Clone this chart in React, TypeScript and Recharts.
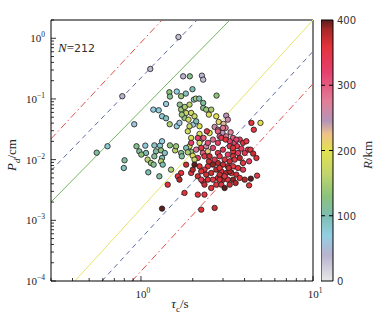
import React from "react";
import {
  ScatterChart,
  Scatter,
  XAxis,
  YAxis,
  ReferenceLine,
  BarChart,
  Bar,
} from "recharts";

// tau_c (s), P_d (cm) and epicentral distance R (km) of the 212 records
const tau = [
  1.652, 1.133, 0.779, 0.914, 0.639, 0.553, 0.803, 0.795, 1.759, 1.923,
  2.26, 2.3, 2.75, 1.993, 1.615, 1.463, 1.474, 1.823, 1.712, 2.03,
  2.085, 2.18, 2.3, 1.18, 1.268, 1.399, 1.326, 1.399, 1.469, 1.615,
  1.674, 1.791, 1.681, 1.712, 1.799, 1.915, 1.831, 1.958, 2.048, 1.727,
  1.889, 2.012, 2.094, 1.915, 1.872, 2.19, 2.395, 2.561, 2.3, 2.482,
  2.74, 2.83, 2.68, 2.8, 3.02, 3.13, 3.2, 3.105, 2.98, 3.13,
  3.32, 3.428, 3.506, 3.28, 2.866, 2.505, 2.19, 2.24, 2.395, 1.958,
  1.915, 1.958, 2.094, 2.29, 2.449, 2.62, 2.8, 2.14, 2.34, 0.942,
  0.978, 1.06, 1.07, 1.005, 1.197, 1.291, 1.326, 1.223, 1.308, 1.376,
  1.196, 1.093, 1.143, 1.185, 1.326, 1.308, 1.338, 1.474, 1.579, 1.6,
  1.712, 1.831, 1.872, 1.727, 2.0, 1.103, 1.279, 1.496, 2.048, 2.19,
  2.416, 2.8, 2.93, 3.105, 3.28, 3.428, 3.62, 3.75, 3.585, 3.92,
  4.19, 4.01, 3.667, 3.428, 3.2, 2.996, 2.866, 3.064, 3.28, 3.506,
  3.75, 3.92, 3.667, 3.428, 3.2, 2.996, 2.8, 2.62, 2.449, 2.34,
  2.24, 2.395, 2.561, 2.74, 2.93, 3.13, 3.35, 3.585, 2.449, 2.62,
  2.8, 2.996, 3.2, 3.428, 3.55, 2.29, 2.14, 1.958, 2.0, 1.831,
  1.712, 1.637, 1.674, 2.24, 2.74, 2.93, 3.064, 3.28, 2.561, 2.34,
  1.431, 1.791, 2.14, 2.34, 2.24, 2.68, 1.326, 4.33, 4.486, 4.69,
  4.25, 4.386, 4.53, 4.95, 4.01, 4.35, 4.73, 4.25, 3.28, 2.866,
  3.75, 3.92, 2.19, 2.482, 2.68, 2.866, 3.064, 3.24, 2.866, 3.428,
  4.1, 3.834, 2.31, 2.449, 2.62, 2.8, 2.996, 2.14, 1.958, 2.24,
  2.505, 2.048,
];

const pd = [
  1.05, 0.312, 0.1109, 0.0383, 0.01662, 0.01302, 0.00975, 0.00728, 0.236, 0.236,
  0.242, 0.208, 0.1136, 0.1447, 0.1323, 0.129, 0.1095, 0.1226, 0.111, 0.0975,
  0.1012, 0.1012, 0.0711, 0.0667, 0.0651, 0.0827, 0.0518, 0.048, 0.0383, 0.0355,
  0.0403, 0.0486, 0.0806, 0.0667, 0.0738, 0.0806, 0.0588, 0.0588, 0.0518, 0.0552,
  0.0456, 0.0378, 0.0428, 0.0355, 0.0293, 0.0355, 0.0667, 0.0667, 0.0859, 0.0552,
  0.0518, 0.0418, 0.0346, 0.0311, 0.0388, 0.0531, 0.0456, 0.0333, 0.0275, 0.0242,
  0.0282, 0.0228, 0.0189, 0.0201, 0.0242, 0.0275, 0.0265, 0.0214, 0.0166, 0.0228,
  0.0166, 0.0134, 0.0146, 0.01287, 0.0137, 0.0156, 0.01287, 0.01065, 0.01135, 0.0166,
  0.0137, 0.017, 0.01287, 0.0121, 0.0172, 0.017, 0.0201, 0.0137, 0.0142, 0.01287,
  0.01135, 0.01, 0.00881, 0.00827, 0.01065, 0.00938, 0.00827, 0.0172, 0.0142, 0.0166,
  0.01287, 0.0156, 0.0132, 0.01135, 0.01162, 0.00618, 0.00531, 0.00684, 0.01, 0.0189,
  0.0293, 0.0189, 0.0228, 0.0214, 0.0166, 0.0137, 0.0166, 0.0214, 0.0214, 0.0189,
  0.0146, 0.01287, 0.01287, 0.01135, 0.0121, 0.0146, 0.01135, 0.01, 0.00938, 0.01,
  0.01065, 0.00881, 0.00728, 0.00776, 0.00776, 0.00827, 0.00881, 0.00827, 0.00776, 0.00684,
  0.00642, 0.00566, 0.00603, 0.00684, 0.00642, 0.00603, 0.00603, 0.00566, 0.00468, 0.00468,
  0.00499, 0.00468, 0.00468, 0.00468, 0.00412, 0.00439, 0.00531, 0.00603, 0.00684, 0.00827,
  0.00603, 0.00531, 0.00468, 0.00468, 0.00387, 0.00387, 0.00341, 0.00387, 0.00341, 0.00387,
  0.00387, 0.00283, 0.00265, 0.00265, 0.0015, 0.0016, 0.00156, 0.0146, 0.0126, 0.01065,
  0.00938, 0.0403, 0.0311, 0.0403, 0.00468, 0.00486, 0.00545, 0.00377, 0.00642, 0.00566,
  0.00499, 0.00684, 0.00776, 0.00938, 0.01, 0.00728, 0.00531, 0.00728, 0.00468, 0.0156,
  0.0201, 0.0152, 0.0228, 0.0189, 0.0214, 0.0293, 0.0333, 0.0228, 0.0189, 0.0156,
  0.01135, 0.00827,
];

const distance = [
  30, 35, 40, 60, 80, 110, 110, 90, 40, 120,
  40, 35, 130, 100, 70, 130, 120, 90, 140, 80,
  150, 100, 120, 70, 75, 65, 80, 90, 150, 70,
  60, 130, 120, 140, 150, 160, 170, 180, 170, 140,
  185, 60, 100, 170, 180, 190, 140, 150, 110, 190,
  200, 210, 260, 270, 230, 250, 260, 270, 250, 280,
  270, 300, 310, 320, 300, 200, 195, 250, 260, 190,
  190, 140, 280, 300, 220, 320, 340, 330, 350, 120,
  110, 80, 100, 130, 85, 80, 70, 110, 130, 90,
  115, 160, 140, 115, 100, 160, 100, 130, 160, 140,
  120, 100, 150, 110, 190, 100, 110, 150, 170, 180,
  350, 330, 340, 360, 350, 360, 340, 330, 320, 360,
  350, 340, 330, 360, 330, 340, 350, 350, 370, 350,
  380, 350, 360, 350, 360, 370, 380, 390, 360, 350,
  360, 370, 370, 380, 350, 380, 360, 370, 360, 350,
  360, 380, 360, 390, 380, 350, 370, 350, 380, 370,
  360, 350, 380, 340, 360, 350, 400, 370, 360, 370,
  360, 360, 360, 350, 360, 370, 400, 350, 370, 360,
  330, 360, 350, 200, 380, 400, 350, 360, 380, 370,
  360, 340, 360, 370, 340, 360, 350, 370, 365, 360,
  350, 330, 300, 310, 290, 300, 280, 320, 320, 350,
  370, 400,
];

// end points of the six guide lines, upper-left ones first
const guideTau = [
  [0.3, 1.325],
  [0.3, 2.12],
  [0.3, 3.29],
  [0.413, 10],
  [0.593, 10],
  [0.887, 10],
];
const guidePd = [
  [0.022, 2],
  [0.0066, 2],
  [0.002, 2],
  [0.0001, 2],
  [0.0001, 0.607],
  [0.0001, 0.178],
];

const xTicks = [0.3, 0.4, 0.5, 0.6, 0.7, 0.8, 0.9, 1, 2, 3, 4, 5, 6, 7, 8, 9, 10];
const yTicks = [
  0.0001, 0.0002, 0.0003, 0.0004, 0.0005, 0.0006, 0.0007, 0.0008, 0.0009,
  0.001, 0.002, 0.003, 0.004, 0.005, 0.006, 0.007, 0.008, 0.009,
  0.01, 0.02, 0.03, 0.04, 0.05, 0.06, 0.07, 0.08, 0.09,
  0.1, 0.2, 0.3, 0.4, 0.5, 0.6, 0.7, 0.8, 0.9,
  1, 2,
];
const colorTicks = [0, 100, 200, 300, 400];

// colour map for R
const colorStopR = [0, 40, 70, 100, 130, 165, 200, 225, 245, 275, 320, 360, 385, 400];
const colorStopHex = [
  "#e8e8e8", "#b8b3d0", "#93cfe2", "#7dbdb2", "#8cc27c", "#c2d66c", "#e2e150",
  "#eec28a", "#b495b8", "#e27e98", "#e4406e", "#e2323a", "#a82828", "#5a1e1e",
];

const guideStyle = [
  { stroke: "#e0504a", dash: "7 3 1.5 3" },
  { stroke: "#5a6aa8", dash: "5 4" },
  { stroke: "#72b662", dash: undefined },
  { stroke: "#e6e46a", dash: undefined },
  { stroke: "#5a6aa8", dash: "5 4" },
  { stroke: "#e0504a", dash: "7 3 1.5 3" },
];

const SERIF = '"Liberation Serif", "DejaVu Serif", serif';
const SANS = '"DejaVu Sans", sans-serif';

function hexToRgb(hex: string) {
  return [1, 3, 5].map((i) => parseInt(hex.slice(i, i + 2), 16));
}

function colorFor(r: number) {
  let i = 0;
  while (i < colorStopR.length - 2 && r > colorStopR[i + 1]) i++;
  const t = Math.min(1, Math.max(0, (r - colorStopR[i]) / (colorStopR[i + 1] - colorStopR[i])));
  const a = hexToRgb(colorStopHex[i]);
  const b = hexToRgb(colorStopHex[i + 1]);
  const c = a.map((v, k) => Math.round(v + (b[k] - v) * t));
  return `rgb(${c[0]},${c[1]},${c[2]})`;
}

const points = tau.map((t, i) => ({ tau: t, pd: pd[i], r: distance[i] }));

const TICK_MARGIN = 4;

function isDecade(v: number) {
  const lg = Math.log10(v);
  return Math.abs(lg - Math.round(lg)) < 1e-9;
}

function power(v: number) {
  const e = Math.round(Math.log10(v));
  return e < 0 ? `\u2212${-e}` : `${e}`;
}

function XTick(props: any) {
  const { x, y, payload } = props;
  const major = isDecade(payload.value);
  const axisY = y - TICK_MARGIN;
  return (
    <g>
      <line x1={x} x2={x} y1={axisY} y2={axisY - (major ? 5 : 3)} stroke="#000" strokeWidth={0.8} />
      {major && (
        <text x={x + 2} y={axisY + 17} textAnchor="middle" fontSize={11} fontFamily={SERIF} fill="#222">
          10
          <tspan dy={-5} fontSize={7.5}>{power(payload.value)}</tspan>
        </text>
      )}
    </g>
  );
}

function YTick(props: any) {
  const { x, y, payload } = props;
  const major = isDecade(payload.value);
  const axisX = x + TICK_MARGIN;
  return (
    <g>
      <line x1={axisX} x2={axisX + (major ? 5 : 3)} y1={y} y2={y} stroke="#000" strokeWidth={0.8} />
      {major && (
        <text x={axisX - 6} y={y + 4} textAnchor="end" fontSize={11} fontFamily={SERIF} fill="#222">
          10
          <tspan dy={-5} fontSize={7.5}>{power(payload.value)}</tspan>
        </text>
      )}
    </g>
  );
}

function ColorTick(props: any) {
  const { x, y, payload } = props;
  const axisX = x - TICK_MARGIN;
  const inner = payload.value > 0 && payload.value < 400;
  return (
    <g>
      {inner && (
        <>
          <line x1={axisX - 12} x2={axisX - 8} y1={y} y2={y} stroke="#000" strokeWidth={1} />
          <line x1={axisX - 4} x2={axisX} y1={y} y2={y} stroke="#000" strokeWidth={1} />
        </>
      )}
      <text x={axisX + 4} y={y + 4} fontSize={10} fontFamily={SANS} fill="#333">
        {payload.value}
      </text>
    </g>
  );
}

function Dot(props: any) {
  const { cx, cy } = props;
  const r = props.payload ? props.payload.r : props.r;
  return <circle cx={cx} cy={cy} r={2.7} fill={colorFor(r)} stroke="#1a1a1a" strokeWidth={0.8} />;
}

export default function App() {
  return (
    <div
      style={{
        position: "absolute",
        left: 0,
        top: 0,
        width: 386,
        height: 324,
        background: "#fff",
        fontFamily: SERIF,
      }}
    >
      <ScatterChart width={386} height={324} margin={{ top: 20, right: 73, bottom: 13, left: 11 }}>
        <XAxis
          dataKey="tau"
          type="number"
          scale="log"
          domain={[0.3, 10]}
          ticks={xTicks}
          interval={0}
          allowDataOverflow
          height={30}
          tickSize={0}
          tickMargin={TICK_MARGIN}
          tick={XTick}
          axisLine={{ stroke: "#000", strokeWidth: 1 }}
        />
        <YAxis
          dataKey="pd"
          type="number"
          scale="log"
          domain={[0.0001, 2]}
          ticks={yTicks}
          interval={0}
          allowDataOverflow
          width={40}
          tickSize={0}
          tickMargin={TICK_MARGIN}
          tick={YTick}
          axisLine={{ stroke: "#000", strokeWidth: 1 }}
        />
        <ReferenceLine x={10} stroke="#000" strokeWidth={1} />
        <ReferenceLine y={2} stroke="#000" strokeWidth={1} />
        {guideTau.map((tx, i) => (
          <ReferenceLine
            key={i}
            segment={[
              { x: tx[0], y: guidePd[i][0] },
              { x: tx[1], y: guidePd[i][1] },
            ]}
            stroke={guideStyle[i].stroke}
            strokeWidth={1}
            strokeDasharray={guideStyle[i].dash}
            ifOverflow="hidden"
          />
        ))}
        <Scatter data={points} shape={Dot} isAnimationActive={false} />
      </ScatterChart>

      <div style={{ position: "absolute", left: 321, top: 0 }}>
        <BarChart
          width={65}
          height={324}
          data={[{ name: "R", v: 400 }]}
          margin={{ top: 20, right: 0, bottom: 43, left: 0 }}
          barCategoryGap={0}
        >
          <defs>
            <linearGradient id="rGrad" x1="0" y1="1" x2="0" y2="0">
              {colorStopR.map((r, i) => (
                <stop key={r} offset={r / 400} stopColor={colorStopHex[i]} />
              ))}
            </linearGradient>
          </defs>
          <XAxis dataKey="name" hide />
          <YAxis
            orientation="right"
            type="number"
            domain={[0, 400]}
            ticks={colorTicks}
            interval={0}
            width={53}
            tickSize={0}
            tickMargin={TICK_MARGIN}
            tick={ColorTick}
            axisLine={false}
          />
          <Bar dataKey="v" fill="url(#rGrad)" stroke="#000" strokeWidth={1} isAnimationActive={false} />
        </BarChart>
      </div>

      <div style={{ position: "absolute", left: 58, top: 40, fontSize: 13, color: "#222", whiteSpace: "nowrap" }}>
        <i>N</i>=<span style={{ fontFamily: SANS, fontSize: 11, color: "#333" }}>212</span>
      </div>

      <div
        style={{
          position: "absolute",
          left: -28,
          top: 147,
          width: 80,
          height: 16,
          lineHeight: "16px",
          textAlign: "center",
          fontSize: 13,
          color: "#222",
          transform: "rotate(-90deg)",
          whiteSpace: "nowrap",
        }}
      >
        <i>P</i>
        <sub style={{ fontSize: 9 }}>
          <i>d</i>
        </sub>
        /cm
      </div>

      <div
        style={{
          position: "absolute",
          left: 140,
          top: 296,
          width: 80,
          textAlign: "center",
          fontSize: 13,
          color: "#222",
          whiteSpace: "nowrap",
        }}
      >
        <i>τ</i>
        <sub style={{ fontSize: 9 }}>c</sub>/s
      </div>

      <div
        style={{
          position: "absolute",
          left: 328,
          top: 147,
          width: 80,
          height: 16,
          lineHeight: "16px",
          textAlign: "center",
          fontSize: 13,
          color: "#333",
          transform: "rotate(-90deg)",
          whiteSpace: "nowrap",
        }}
      >
        <i>R</i>/km
      </div>
    </div>
  );
}
